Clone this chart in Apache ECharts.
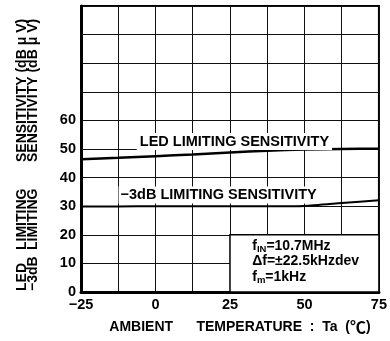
<!DOCTYPE html>
<html>
<head>
<meta charset="utf-8">
<script src="https://cdn.jsdelivr.net/npm/echarts@6/dist/echarts.min.js"></script>
<style>
  html, body { margin: 0; padding: 0; background: #fff; }
  #chart { width: 390px; height: 341px; }
</style>
</head>
<body>
<div id="chart"></div>
<script>
// Ambient temperature (°C) sample points
const temps = [-25, -12.5, 0, 12.5, 25, 37.5, 50, 62.5, 75];
// LED limiting sensitivity (dBμV)
const ledSens = [46.4, 46.9, 47.5, 48.1, 48.8, 49.4, 49.8, 50.0, 50.1];
// -3dB limiting sensitivity (dBμV)
const minus3dBSens = [29.9, 29.9, 30.0, 30.0, 30.0, 30.0, 30.1, 31.1, 32.1];

// Axis tick labels
const xTickLabels = { '-25': '\u221225', '0': '0', '25': '25', '50': '50', '75': '75' };
const yTickLabels = [0, 10, 20, 30, 40, 50, 60];

// Curve captions and measurement conditions
const ledCaption = 'LED LIMITING SENSITIVITY';
const m3dBCaption = '\u22123dB LIMITING SENSITIVITY';
const conditionsBox = { x0: 25, x1: 75, y0: 0, y1: 20 };

const FONT = 'Liberation Sans';

const chart = echarts.init(document.getElementById('chart'), null, { renderer: 'canvas' });

const pairs = (xs, ys) => xs.map((x, i) => [x, ys[i]]);

// Two-column vertical y-axis title, one word group per text element
const yNameStyle = { font: 'bold 14px "' + FONT + '"', fill: '#000', align: 'left', verticalAlign: 'middle' };
function yNameWord(text, x, y) {
  return { type: 'text', x: x, y: y, rotation: Math.PI / 2, style: Object.assign({ text: text }, yNameStyle) };
}

chart.setOption({
  animation: false,
  backgroundColor: '#fff',
  textStyle: { fontFamily: FONT },
  grid: {
    left: 81, right: 8, top: 6, bottom: 49,
    show: true, borderColor: '#000', borderWidth: 2, backgroundColor: 'transparent'
  },
  xAxis: {
    type: 'value', min: -25, max: 75, interval: 12.5,
    axisLine: { show: true, onZero: false, lineStyle: { color: '#000', width: 3 } },
    axisTick: { show: false },
    splitLine: { show: true, lineStyle: { color: '#111', width: 1 } },
    axisLabel: {
      margin: 5, color: '#000', fontSize: 14.5, fontWeight: 'bold', fontFamily: FONT,
      formatter: v => (xTickLabels[String(v)] !== undefined ? xTickLabels[String(v)] : '')
    },
    name: '{t|AMBIENT      TEMPERATURE  :  Ta  (}{c|\u2103}{t|)}',
    nameLocation: 'middle', nameGap: 27,
    nameTextStyle: {
      color: '#000', fontSize: 14, fontWeight: 'bold', fontFamily: FONT, padding: [0, 0, 0, 20],
      rich: {
        t: { fontSize: 14, fontWeight: 'bold', fontFamily: FONT, color: '#000' },
        c: { fontSize: 16, fontWeight: 'bold', fontFamily: 'Noto Sans CJK JP', color: '#000' }
      }
    }
  },
  yAxis: {
    type: 'value', min: 0, max: 100, interval: 10,
    axisLine: { show: true, onZero: false, lineStyle: { color: '#000', width: 3 } },
    axisTick: { show: false },
    splitLine: { show: true, lineStyle: { color: '#111', width: 1 } },
    axisLabel: {
      margin: 5, color: '#000', fontSize: 14.5, fontWeight: 'bold', fontFamily: FONT,
      formatter: v => (yTickLabels.indexOf(v) >= 0 ? String(v) : '')
    }
  },
  graphic: [
    yNameWord('LED', 22, 291),
    yNameWord('LIMITING', 22, 250),
    yNameWord('SENSITIVITY (dB \u03bc V)', 22, 162),
    yNameWord('\u22123dB', 33, 291),
    yNameWord('LIMITING', 33, 250),
    yNameWord('SENSITIVITY (dB \u03bc V)', 33, 162)
  ],
  series: [
    {
      name: 'LED', type: 'line', data: pairs(temps, ledSens),
      showSymbol: false, smooth: 0.2,
      lineStyle: { color: '#000', width: 2.5 },
      markPoint: {
        symbol: 'rect', symbolSize: 1, itemStyle: { color: 'rgba(0,0,0,0)' },
        label: {
          show: true, position: 'inside', color: '#000', fontSize: 14.5, fontWeight: 'bold',
          fontFamily: FONT, backgroundColor: '#fff', padding: [1, 3]
        },
        data: [{ coord: [26.5, 52.6], label: { formatter: ledCaption } }]
      }
    },
    {
      name: '-3dB', type: 'line', data: pairs(temps, minus3dBSens),
      showSymbol: false, smooth: 0.2,
      lineStyle: { color: '#000', width: 2 },
      markPoint: {
        symbol: 'rect', symbolSize: 1, itemStyle: { color: 'rgba(0,0,0,0)' },
        label: {
          show: true, position: 'inside', color: '#000', fontSize: 14.5, fontWeight: 'bold',
          fontFamily: FONT, backgroundColor: '#fff', padding: [1, 2]
        },
        data: [{ coord: [21.2, 33.9], label: { formatter: m3dBCaption } }]
      },
      markArea: {
        silent: true,
        itemStyle: { color: '#fff', borderColor: '#000', borderWidth: 1.5 },
        label: {
          show: true, position: 'insideTopLeft', distance: 0, padding: [4, 0, 0, 23],
          color: '#000', fontFamily: FONT,
          formatter: '{a|f}{s|IN}{a|=10.7MHz}\n{a|\u0394f=\u00b122.5kHzdev}\n{a|f}{s|m}{a|=1kHz}',
          rich: {
            a: { fontSize: 14, fontWeight: 'bold', lineHeight: 15.5, color: '#000', fontFamily: FONT },
            s: { fontSize: 9.5, fontWeight: 'bold', lineHeight: 15.5, color: '#000', fontFamily: FONT, padding: [7, 0, 0, 0] }
          }
        },
        data: [[{ coord: [conditionsBox.x0, conditionsBox.y0] }, { coord: [conditionsBox.x1, conditionsBox.y1] }]]
      }
    }
  ]
});
</script>
</body>
</html>
